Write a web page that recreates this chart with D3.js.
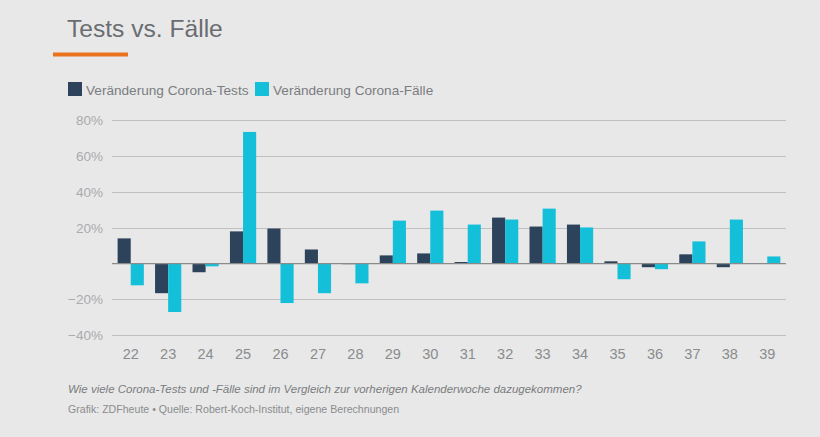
<!DOCTYPE html>
<html><head><meta charset="utf-8">
<script src="https://cdn.jsdelivr.net/npm/d3@7"></script>
<style>
html,body{margin:0;padding:0;background:#e8e8e8;}
svg{display:block;font-family:"Liberation Sans",Arial,sans-serif;}
</style></head>
<body><div id="chart"></div>
<script>
const weeks = ["22","23","24","25","26","27","28","29","30","31","32","33","34","35","36","37","38","39"];
const testsChange = [14.1,-16.5,-4.8,18.0,19.6,7.9,-0.3,4.6,5.7,0.9,25.7,20.7,21.8,1.3,-2.0,5.2,-2.0,0];
const casesChange = [-12.1,-27.0,-1.5,73.5,-22.0,-16.5,-11.0,24.0,29.6,21.8,24.6,30.7,20.2,-8.7,-3.1,12.4,24.6,4.0];
const yTicks = [-40,-20,20,40,60,80];
const seriesNames = ["Veränderung Corona-Tests","Veränderung Corona-Fälle"];
const colors = ["#2d435b","#13bfd9"];

const W=820,H=437;
const svg=d3.select("#chart").append("svg").attr("width",W).attr("height",H);
svg.append("rect").attr("width",W).attr("height",H).attr("fill","#e8e8e8");

// title
svg.append("text").attr("x",67).attr("y",37).attr("font-size",24.6).attr("fill","#6a6d71").text("Tests vs. Fälle");
svg.append("rect").attr("x",53).attr("y",52.5).attr("width",75).attr("height",4).attr("fill","#e8731c");

// legend
const lg=[{x:68,tx:86},{x:255,tx:273}];
seriesNames.forEach((n,i)=>{
  svg.append("rect").attr("x",lg[i].x).attr("y",82).attr("width",14).attr("height",14).attr("fill",colors[i]);
  svg.append("text").attr("x",lg[i].tx).attr("y",95).attr("font-size",13.6).attr("fill","#7a7d80").text(n);
});

const x=d3.scaleBand().domain(weeks).range([112,786]).paddingInner(0.3).paddingOuter(0.15);
const x1=d3.scaleBand().domain([0,1]).range([0,x.bandwidth()]);
const y=d3.scaleLinear().domain([-40,80]).range([335.3,120.3]);

// grid
svg.append("g").selectAll("line").data(yTicks).join("line")
  .attr("x1",112).attr("x2",786).attr("y1",d=>Math.round(y(d))+0.5).attr("y2",d=>Math.round(y(d))+0.5)
  .attr("stroke","#c0c0c0").attr("stroke-width",1.2);
svg.append("g").selectAll("text").data(yTicks).join("text")
  .attr("x",103).attr("y",d=>y(d)+5).attr("text-anchor","end").attr("font-size",13.5).attr("fill","#a9abad")
  .text(d=>(d<0?"\u2212"+Math.abs(d):d)+"%");

// bars
const data=weeks.map((w,i)=>({w,v:[testsChange[i],casesChange[i]]}));
const g=svg.append("g");
data.forEach(d=>{
  d.v.forEach((v,k)=>{
    g.append("rect").attr("x",x(d.w)+x1(k)).attr("width",x1.bandwidth())
      .attr("y",y(Math.max(0,v))).attr("height",Math.abs(y(v)-y(0)))
      .attr("fill",colors[k]);
  });
});
// zero line
svg.append("line").attr("x1",112).attr("x2",786).attr("y1",y(0)).attr("y2",y(0)).attr("stroke","#8a8a8a").attr("stroke-width",1.2);

// x axis labels
const xa=d3.axisBottom(x).tickSize(0).tickPadding(0);
const xg=svg.append("g").attr("transform","translate(0,349)").call(xa);
xg.select(".domain").remove();
xg.selectAll("text").attr("font-size",14.5).attr("fill","#8a8c8e").attr("font-family","Liberation Sans, Arial, sans-serif");

// footer
svg.append("text").attr("x",68).attr("y",393).attr("font-size",11.5).attr("font-style","italic").attr("fill","#7a7c7e")
  .text("Wie viele Corona-Tests und -Fälle sind im Vergleich zur vorherigen Kalenderwoche dazugekommen?");
svg.append("text").attr("x",68).attr("y",412.5).attr("font-size",10.6).attr("fill","#8a8c8e")
  .text("Grafik: ZDFheute \u2022 Quelle: Robert-Koch-Institut, eigene Berechnungen");
</script></body></html>
